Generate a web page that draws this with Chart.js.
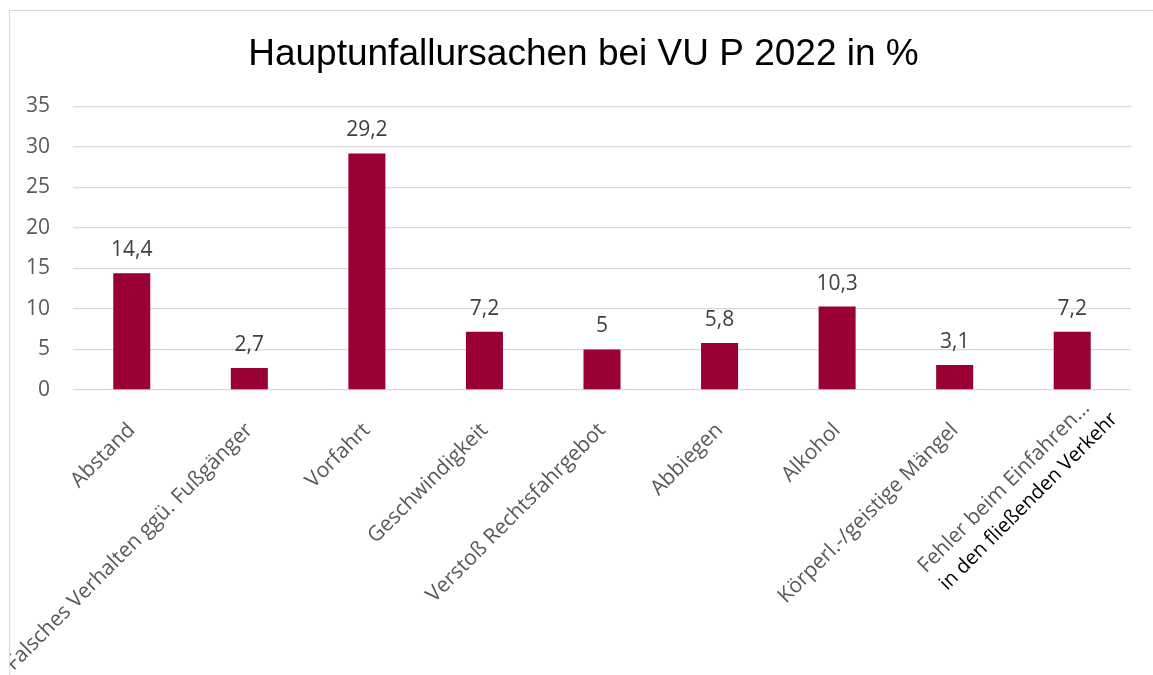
<!DOCTYPE html>
<html>
<head>
<meta charset="utf-8">
<title>Hauptunfallursachen bei VU P 2022 in %</title>
<script src="https://cdn.jsdelivr.net/npm/chart.js@4/dist/chart.umd.min.js"></script>
<style>
  html, body { margin: 0; padding: 0; background: #fff; overflow: hidden; }
  #frame { position: absolute; left: 9px; top: 10px; width: 1170px; height: 690px; border: 1px solid #d9d9d9; }
  #wrap { position: absolute; left: 10px; top: 11px; width: 1143px; height: 664px; }
</style>
</head>
<body>
<div id="frame"></div>
<div id="wrap"><canvas id="chart"></canvas></div>
<script>
/* ---------- DATA ---------- */

const categories = [
  "Abstand",
  "Falsches Verhalten ggü. Fußgänger",
  "Vorfahrt",
  "Geschwindigkeit",
  "Verstoß Rechtsfahrgebot",
  "Abbiegen",
  "Alkohol",
  "Körperl.-/geistige Mängel",
  "Fehler beim Einfahren…"
];
const values = [14.4, 2.7, 29.2, 7.2, 5, 5.8, 10.3, 3.1, 7.2];
const yTicks = [0, 5, 10, 15, 20, 25, 30, 35];
const extraLine = "in den fließenden Verkehr";
const chartTitle = "Hauptunfallursachen bei VU P 2022 in %";

/* ---------- HELPERS ---------- */

const FONT = '"Open Sans", "Noto Sans", sans-serif';
const FONT_SIZE = 21;
const LAST = categories.length - 1;

function fmt(v) {
  return String(v).replace(".", ",");
}

function rotatedText(ctx, text, x, y, font, color) {
  ctx.save();
  ctx.translate(x, y);
  ctx.rotate(-Math.PI / 4);
  ctx.font = font;
  ctx.fillStyle = color;
  ctx.textAlign = "right";
  ctx.textBaseline = "middle";
  ctx.fillText(text, 0, 0);
  ctx.restore();
}

// value labels above the bars
const valueLabels = {
  id: "valueLabels",
  afterDatasetsDraw(chart) {
    const ctx = chart.ctx;
    const meta = chart.getDatasetMeta(0);
    ctx.save();
    ctx.font = FONT_SIZE + "px " + FONT;
    ctx.fillStyle = "#404040";
    ctx.textAlign = "center";
    ctx.textBaseline = "alphabetic";
    meta.data.forEach((bar, i) => {
      ctx.fillText(fmt(values[i]), bar.x, bar.y - 17);
    });
    ctx.restore();
  }
};

// last category label: two lines, the second one in black
const lastLabel = {
  id: "lastLabel",
  afterLayout(chart) {
    // centre the title over the whole frame, like the original
    chart.titleBlock.left += 13;
    chart.titleBlock.right += 13;
  },
  afterDraw(chart) {
    const xs = chart.scales.x;
    const px = xs.getPixelForTick(LAST);
    const ctx = chart.ctx;
    rotatedText(ctx, categories[LAST], px + 14, xs.top + 15, FONT_SIZE + "px " + FONT, "#595959");
    rotatedText(ctx, extraLine, px + 42, xs.top + 26, "20px " + FONT, "#000");
  }
};

/* ---------- INIT ---------- */

const ctx = document.getElementById("chart").getContext("2d");

new Chart(ctx, {
  type: "bar",
  data: {
    labels: categories,
    datasets: [
      {
        data: values,
        backgroundColor: "#990033",
        barPercentage: 0.63,
        categoryPercentage: 0.5
      }
    ]
  },
  options: {
    responsive: true,
    maintainAspectRatio: false,
    animation: false,
    layout: { padding: { left: 0, right: 22, top: 0, bottom: 0 } },
    plugins: {
      legend: { display: false },
      tooltip: { enabled: false },
      title: {
        display: true,
        text: chartTitle,
        color: "#000",
        font: { family: '"Liberation Sans", Arial, sans-serif', size: 37, weight: "normal" },
        padding: { top: 22, bottom: 29 }
      }
    },
    scales: {
      x: {
        grid: { display: false },
        border: { display: false },
        ticks: {
          color: "#595959",
          font: { family: FONT, size: FONT_SIZE },
          minRotation: 45,
          maxRotation: 45,
          autoSkip: false,
          padding: 20,
          callback: (v, i) => (i === LAST ? "" : categories[i])
        },
        afterFit(scale) { scale.height = 285; }
      },
      y: {
        min: 0,
        max: 35,
        afterBuildTicks(scale) { scale.ticks = yTicks.map(v => ({ value: v })); },
        grid: { color: "#d9d9d9", lineWidth: 1.3, drawTicks: false },
        border: { display: false },
        ticks: {
          color: "#595959",
          font: { family: FONT, size: FONT_SIZE },
          padding: 23
        },
        afterFit(scale) { scale.width = 63; }
      }
    }
  },
  plugins: [valueLabels, lastLabel]
});
</script>
</body>
</html>
